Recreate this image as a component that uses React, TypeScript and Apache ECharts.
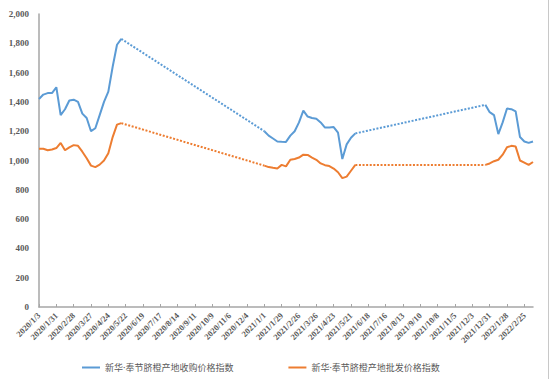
import React, { useEffect, useRef } from "react";
import * as echarts from "echarts";

// Weekly categories 2020/1/3 … 2022/3/11
const START = new Date(2020, 0, 3);
const WEEKS = 115;
const categories: string[] = [];
for (let i = 0; i < WEEKS; i++) {
  const d = new Date(START.getFullYear(), START.getMonth(), START.getDate() + i * 7);
  categories.push(`${d.getFullYear()}/${d.getMonth() + 1}/${d.getDate()}`);
}

const yTicks = [0, 200, 400, 600, 800, 1000, 1200, 1400, 1600, 1800, 2000];

// 收购价格指数 (purchase) segments: [startWeek, values]
const buySeg1Start = 0;
const buySeg1 = [1420, 1450, 1460, 1460, 1500, 1310, 1350, 1410, 1415, 1400, 1320, 1290, 1200, 1220, 1310, 1400, 1470, 1640, 1790, 1830];
const buySeg2Start = 52;
const buySeg2 = [1200, 1170, 1150, 1130, 1128, 1127, 1170, 1200, 1260, 1340, 1300, 1290, 1285, 1260, 1225, 1225, 1228, 1190, 1010, 1110, 1155, 1185];
const buySeg3Start = 103;
const buySeg3 = [1380, 1330, 1310, 1180, 1260, 1355, 1350, 1335, 1160, 1130, 1120, 1130];

// 批发价格指数 (wholesale) segments
const saleSeg1 = [1080, 1080, 1070, 1075, 1085, 1120, 1070, 1090, 1105, 1100, 1060, 1015, 965, 955, 972, 1000, 1050, 1160, 1245, 1255];
const saleSeg2 = [965, 955, 950, 946, 970, 960, 1005, 1010, 1020, 1040, 1038, 1020, 1005, 980, 968, 962, 945, 920, 880, 890, 930, 970];
const saleSeg3 = [970, 980, 995, 1005, 1040, 1090, 1100, 1095, 1000, 985, 970, 990];

const NAME_BUY = "新华·奉节脐橙产地收购价格指数";
const NAME_SALE = "新华·奉节脐橙产地批发价格指数";
const BLUE = "#5B9BD5";
const ORANGE = "#ED7D31";
const SERIF = "'Liberation Serif', 'DejaVu Serif', 'Times New Roman', serif";

function buildFull(segs: [number, number[]][]): (number | null)[] {
  const arr: (number | null)[] = new Array(WEEKS).fill(null);
  segs.forEach(([s, vals]) => vals.forEach((v, i) => (arr[s + i] = v)));
  return arr;
}
function buildGap(a: [number, number[]], b: [number, number[]]): (number | null)[] {
  const arr: (number | null)[] = new Array(WEEKS).fill(null);
  const aEnd = a[0] + a[1].length - 1;
  arr[aEnd] = a[1][a[1].length - 1];
  arr[b[0]] = b[1][0];
  return arr;
}

export default function App() {
  const ref = useRef<HTMLDivElement>(null);
  useEffect(() => {
    if (!ref.current) return;
    const chart = echarts.init(ref.current, null, { renderer: "svg" });
    const b1: [number, number[]] = [buySeg1Start, buySeg1];
    const b2: [number, number[]] = [buySeg2Start, buySeg2];
    const b3: [number, number[]] = [buySeg3Start, buySeg3];
    const s1: [number, number[]] = [buySeg1Start, saleSeg1];
    const s2: [number, number[]] = [buySeg2Start, saleSeg2];
    const s3: [number, number[]] = [buySeg3Start, saleSeg3];
    const solid = (name: string, color: string, data: (number | null)[]) => ({
      name,
      type: "line",
      data,
      symbol: "none",
      connectNulls: false,
      lineStyle: { color, width: 2 },
      itemStyle: { color },
      z: 3,
    });
    const dotted = (color: string, data: (number | null)[]) => ({
      name: "gap",
      type: "line",
      data,
      symbol: "none",
      connectNulls: true,
      lineStyle: { color, width: 2, type: [2, 1.6] },
      itemStyle: { color },
      z: 2,
      silent: true,
    });
    chart.setOption({
      animation: false,
      grid: { left: 39, right: 17, top: 14, bottom: 72, containLabel: false },
      legend: {
        data: [
          { name: NAME_BUY, icon: "rect" },
          { name: NAME_SALE, icon: "rect" },
        ],
        left: 77,
        top: 358,
        itemWidth: 18,
        itemHeight: 2,
        itemGap: 55,
        textStyle: { color: "#595959", fontSize: 9, fontFamily: "'Noto Sans', 'Noto Sans CJK SC', sans-serif" },
      },
      xAxis: {
        type: "category",
        data: categories,
        boundaryGap: false,
        axisLine: { lineStyle: { color: "#a6a6a6", width: 1.5 } },
        axisTick: { show: true, inside: true, length: 3, interval: 3, lineStyle: { color: "#a6a6a6" } },
        axisLabel: {
          interval: 3,
          rotate: 45,
          margin: 7,
          fontSize: 8.5,
          fontWeight: "bold",
          fontFamily: SERIF,
          color: "#595959",
        },
        splitLine: { show: false },
      },
      yAxis: {
        type: "value",
        min: yTicks[0],
        max: yTicks[yTicks.length - 1],
        interval: 200,
        axisLine: { show: true, lineStyle: { color: "#a6a6a6", width: 1.5 } },
        axisTick: { show: false },
        splitLine: { show: false },
        axisLabel: {
          margin: 10,
          fontSize: 9,
          fontWeight: "bold",
          fontFamily: SERIF,
          color: "#595959",
          formatter: (v: number) => v.toLocaleString("en-US"),
        },
      },
      graphic: [
        {
          type: "line",
          shape: { x1: 548.5, y1: 0, x2: 548.5, y2: 379 },
          style: { stroke: "#c8c8c8", lineWidth: 1 },
        },
      ],
      series: [
        solid(NAME_BUY, BLUE, buildFull([b1, b2, b3])),
        solid(NAME_SALE, ORANGE, buildFull([s1, s2, s3])),
        dotted(BLUE, buildGap(b1, b2)),
        dotted(BLUE, buildGap(b2, b3)),
        dotted(ORANGE, buildGap(s1, s2)),
        dotted(ORANGE, buildGap(s2, s3)),
      ],
    });
    return () => chart.dispose();
  }, []);
  return (
    <div
      ref={ref}
      style={{ position: "absolute", left: 0, top: 0, width: 550, height: 379, background: "#fff" }}
    />
  );
}
